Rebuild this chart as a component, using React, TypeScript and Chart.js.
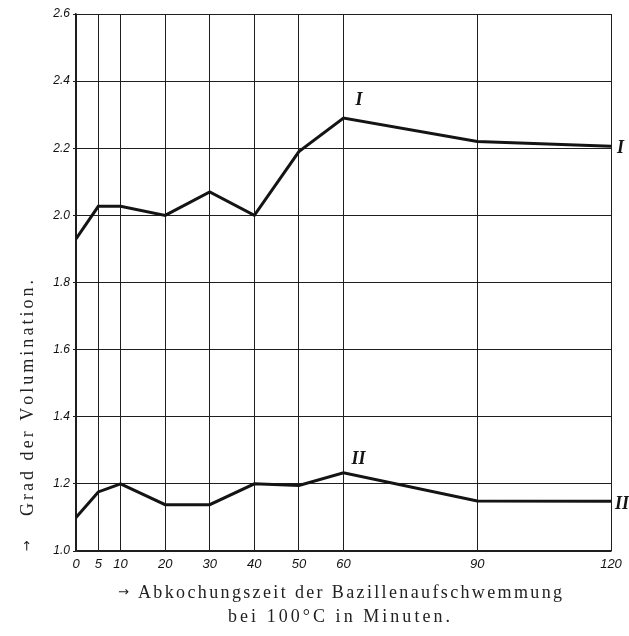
import React, { useEffect, useRef } from "react";
import { Chart, registerables } from "chart.js";

Chart.register(...registerables);

// ---- data ----
const minutes = [0, 5, 10, 20, 30, 40, 50, 60, 90, 120];
const seriesI = [1.93, 2.027, 2.027, 2.0, 2.07, 2.0, 2.19, 2.29, 2.22, 2.206];
const seriesII = [1.1, 1.176, 1.2, 1.138, 1.138, 1.2, 1.195, 1.233, 1.149, 1.148];
const yTickValues = [1.0, 1.2, 1.4, 1.6, 1.8, 2.0, 2.2, 2.4, 2.6];
const seriesLabels = ["I", "II"];
const yTitle = "Grad der Volumination.";
const xTitle1 = "Abkochungszeit der Bazillenaufschwemmung";
const xTitle2 = "bei 100°C in Minuten.";

const INK = "#141414";

function drawSpaced(ctx: CanvasRenderingContext2D, text: string, x0: number, y: number, width: number) {
  const chars = Array.from(text);
  const natural = chars.reduce((s, c) => s + ctx.measureText(c).width, 0);
  const gap = chars.length > 1 ? (width - natural) / (chars.length - 1) : 0;
  let x = x0;
  for (const c of chars) {
    ctx.fillText(c, x, y);
    x += ctx.measureText(c).width + gap;
  }
}

const annotations = {
  id: "annotations",
  afterDraw(chart: any) {
    const ctx: CanvasRenderingContext2D = chart.ctx;
    const xs = chart.scales.x;
    const ys = chart.scales.y;
    const last = minutes.length - 1;
    const peak = 7;
    ctx.save();
    ctx.fillStyle = INK;
    // series labels
    ctx.font = "italic bold 18px 'Liberation Serif'";
    ctx.textAlign = "left";
    ctx.textBaseline = "middle";
    ctx.fillText(seriesLabels[0], xs.getPixelForValue(minutes[peak]) + 12, ys.getPixelForValue(seriesI[peak]) - 18);
    ctx.fillText(seriesLabels[0], xs.getPixelForValue(minutes[last]) + 6, ys.getPixelForValue(seriesI[last]) + 2);
    ctx.fillText(seriesLabels[1], xs.getPixelForValue(minutes[peak]) + 8, ys.getPixelForValue(seriesII[peak]) - 13);
    ctx.fillText(seriesLabels[1], xs.getPixelForValue(minutes[last]) + 4, ys.getPixelForValue(seriesII[last]) + 3);

    // x title
    ctx.textBaseline = "alphabetic";
    ctx.fillStyle = "#222";
    ctx.font = "13px 'DejaVu Sans'";
    ctx.fillText("→", 118, 596);
    ctx.font = "18px 'Liberation Serif'";
    drawSpaced(ctx, xTitle1, 138, 598, 424);
    drawSpaced(ctx, xTitle2, 228, 622, 222);

    // y title (rotated)
    ctx.save();
    ctx.translate(33, 398);
    ctx.rotate(-Math.PI / 2);
    ctx.font = "18px 'Liberation Serif'";
    const w = 236;
    drawSpaced(ctx, yTitle, -w / 2, 0, w);
    ctx.restore();
    // y arrow
    ctx.save();
    ctx.translate(31, 546);
    ctx.rotate(-Math.PI / 2);
    ctx.font = "13px 'DejaVu Sans'";
    ctx.textAlign = "center";
    ctx.fillText("→", 0, 0);
    ctx.restore();
    ctx.restore();
  },
};

export default function App() {
  const ref = useRef<HTMLCanvasElement | null>(null);
  useEffect(() => {
    document.body.style.margin = "0";
    const canvas = ref.current!;
    const chart = new Chart(canvas, {
      type: "line",
      data: {
        datasets: [
          {
            label: seriesLabels[0],
            data: minutes.map((m, i) => ({ x: m, y: seriesI[i] })),
            borderColor: INK,
            borderWidth: 3,
            pointRadius: 0,
            tension: 0,
          },
          {
            label: seriesLabels[1],
            data: minutes.map((m, i) => ({ x: m, y: seriesII[i] })),
            borderColor: INK,
            borderWidth: 3,
            pointRadius: 0,
            tension: 0,
          },
        ],
      },
      options: {
        animation: false,
        responsive: false,
        layout: { padding: { top: 14, right: 18, left: 0, bottom: 0 } },
        plugins: { legend: { display: false }, tooltip: { enabled: false }, title: { display: false } },
        scales: {
          x: {
            type: "linear",
            min: 0,
            max: 120,
            afterBuildTicks: (scale: any) => {
              scale.ticks = minutes.map((v) => ({ value: v }));
            },
            afterFit: (scale: any) => {
              scale.height = 85;
            },
            grid: { color: "#1e1e1e", lineWidth: 1, drawTicks: false },
            border: { display: true, color: "#1e1e1e", width: 1.5 },
            ticks: {
              autoSkip: false,
              maxRotation: 0,
              padding: 6,
              color: "#111",
              font: { family: "'Liberation Sans'", size: 13, style: "italic" },
              callback: (v: any) => String(v),
            },
          },
          y: {
            type: "linear",
            min: 1.0,
            max: 2.6,
            afterBuildTicks: (scale: any) => {
              scale.ticks = yTickValues.map((v) => ({ value: v }));
            },
            afterFit: (scale: any) => {
              scale.width = 76;
            },
            grid: { color: "#1e1e1e", lineWidth: 1, tickLength: 3 },
            border: { display: true, color: "#1e1e1e", width: 1.5 },
            ticks: {
              padding: 3,
              color: "#111",
              font: { family: "'Liberation Sans'", size: 12, style: "italic" },
              callback: (v: any) => Number(v).toFixed(1),
            },
          },
        },
      },
      plugins: [annotations],
    });
    return () => chart.destroy();
  }, []);
  return <canvas ref={ref} width={629} height={636} style={{ display: "block", width: 629, height: 636 }} />;
}
